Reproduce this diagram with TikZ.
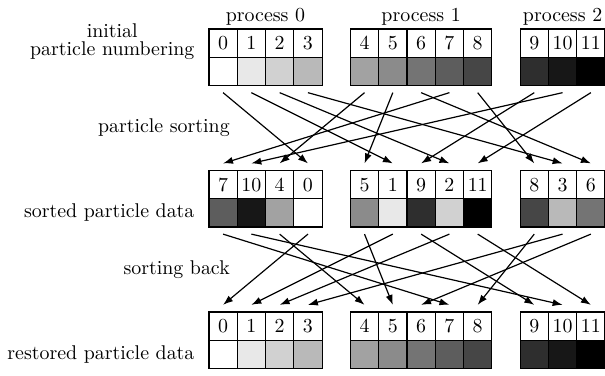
\documentclass[tikz,border=0pt]{standalone}
\usetikzlibrary{calc,arrows.meta}
\begin{document}
\begin{tikzpicture}[x=0.5cm,y=0.5cm,
  cell/.style={draw, line width=0.6pt, minimum width=0.5cm, minimum height=0.5cm, inner sep=0pt, outer sep=0pt},
  flow/.style={line width=0.6pt, -{Latex[length=5pt,width=3.6pt]}},
  lbl/.style={inner sep=0pt}]
\useasboundingbox (-7.385,1.025) rectangle (14,-12.23);
% process headings
\node[lbl, anchor=base] (p0) at (2,0.28) {process 0};
\node[lbl, anchor=base] (p1) at (7.5,0.28) {process 1};
\node[lbl, anchor=base] (p2) at (12.5,0.28) {process 2};
% row labels
\node[lbl, anchor=south east, align=center] (l1) at (-0.5,-1.08) {initial\\[-3.3pt]particle numbering};
\node[lbl, anchor=east] (l2) at (0.75,-3.5) {particle sorting};
\node[lbl, anchor=east] (l3) at (-0.5,-6.5) {sorted particle data};
\node[lbl, anchor=east] (l4) at (0.75,-8.5) {sorting back};
\node[lbl, anchor=east] (l5) at (-0.5,-11.5) {restored particle data};
% initial and restored rows: particle q at column c
\foreach \q/\c in {0/0,1/1,2/2,3/3,4/5,5/6,6/7,7/8,8/9,9/11,10/12,11/13} {
  \pgfmathsetmacro\g{100*\q/11}
  \node[cell] (tn\q) at (\c+0.5,-0.5) {\q};
  \node[cell, fill=black!\g] (tg\q) at (\c+0.5,-1.5) {};
  \node[cell] (bn\q) at (\c+0.5,-10.5) {\q};
  \node[cell, fill=black!\g] (bg\q) at (\c+0.5,-11.5) {};
}
% sorted row: column c holds particle q
\foreach \c/\q in {0/7,1/10,2/4,3/0,5/5,6/1,7/9,8/2,9/11,11/8,12/3,13/6} {
  \pgfmathsetmacro\g{100*\q/11}
  \node[cell] (mn\q) at (\c+0.5,-5.5) {\q};
  \node[cell, fill=black!\g] (mg\q) at (\c+0.5,-6.5) {};
}
% arrows
\foreach \q in {0,...,11} {
  \draw[flow] ($(tg\q.south)+(0,-0.25)$) -- ($(mn\q.north)+(0,0.25)$);
  \draw[flow] ($(mg\q.south)+(0,-0.25)$) -- ($(bn\q.north)+(0,0.25)$);
}
\end{tikzpicture}
\end{document}
